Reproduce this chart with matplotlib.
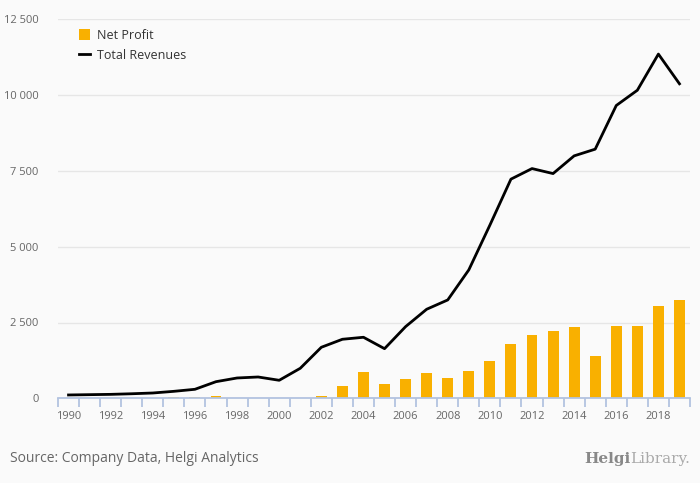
import numpy as np
import matplotlib.pyplot as plt
from matplotlib.ticker import FuncFormatter

years = list(range(1990, 2020))
net_profit = [0, 0, 0, 0, 0, 40, 40, 80, 0, 0,
              0, 0, 76, 404, 862, 469, 633, 830, 666, 895,
              1223, 1779, 2074, 2205, 2336, 1386, 2369, 2369, 3057, 3253]
total_revenues = [110, 120, 130, 150, 175, 230, 297, 548, 670, 703,
                  594, 990, 1683, 1947, 2013, 1637, 2364, 2937, 3244, 4235,
                  5710, 7228, 7577, 7412, 7996, 8217, 9657, 10160, 11353, 10373]
year_labels = [str(y) for y in years[::2]]

plt.rcParams['font.family'] = ['Open Sans', 'DejaVu Sans']

fig = plt.figure(figsize=(7, 4.83), dpi=100, facecolor='#fafafa')
ax = fig.add_axes([58/700, (483-398.3)/483, 632/700, 379/483])
ax.set_facecolor('#fafafa')

x = np.arange(len(years))
bars = ax.bar(x, net_profit, width=0.52, color='#f9b000', label='Net Profit', zorder=2)
line, = ax.plot(x, total_revenues, color='#000000', lw=2, label='Total Revenues', zorder=3)

ax.set_xlim(-0.5, len(years) - 0.5)
ax.set_ylim(0, 12500)
ax.set_yticks([0, 2500, 5000, 7500, 10000, 12500])
ax.yaxis.set_major_formatter(FuncFormatter(lambda v, p: f'{int(v):,}'.replace(',', ' ')))
ax.grid(axis='y', color='#e6e6e6', lw=1, zorder=0)
ax.tick_params(axis='y', length=0, pad=14, labelsize=8, labelcolor='#666666')

ax.set_xticks(x[::2])
ax.set_xticklabels(year_labels)
ax.tick_params(axis='x', which='major', length=0, pad=9, labelsize=8, labelcolor='#666666')

# category boundary ticks drawn as short lines under the axis
ax.vlines(np.arange(-0.5, len(years), 1), 0, -0.024, transform=ax.get_xaxis_transform(),
          colors='#b3c3e0', lw=1.3, clip_on=False)

for s in ['top', 'right', 'left']:
    ax.spines[s].set_visible(False)
ax.spines['bottom'].set_color('#b3c3e0')
ax.spines['bottom'].set_linewidth(1.3)

leg = ax.legend([bars, line], ['Net Profit', 'Total Revenues'], loc='upper left',
                bbox_to_anchor=(0.015, 1.005), frameon=False,
                fontsize=9, handlelength=0.9, handleheight=0.9, handletextpad=0.6,
                labelspacing=0.55)
for t in leg.get_texts():
    t.set_color('#333333')

fig.text(10/700, 1 - 458/483, 'Source: Company Data, Helgi Analytics', fontsize=10,
         color='#666666', va='center', ha='left')

# logo text
lib = fig.text(690/700, 1 - 459/483, 'Library.', fontsize=11, color='#aaaaaa',
               va='center', ha='right', family='DejaVu Serif')
fig.canvas.draw()
bb = lib.get_window_extent()
fig.text(bb.x0 / 700, 1 - 459/483, 'Helgi', fontsize=11, color='#888888',
         va='center', ha='right', family='DejaVu Serif', weight='bold')

fig.savefig('out.png', dpi=100, facecolor=fig.get_facecolor())
